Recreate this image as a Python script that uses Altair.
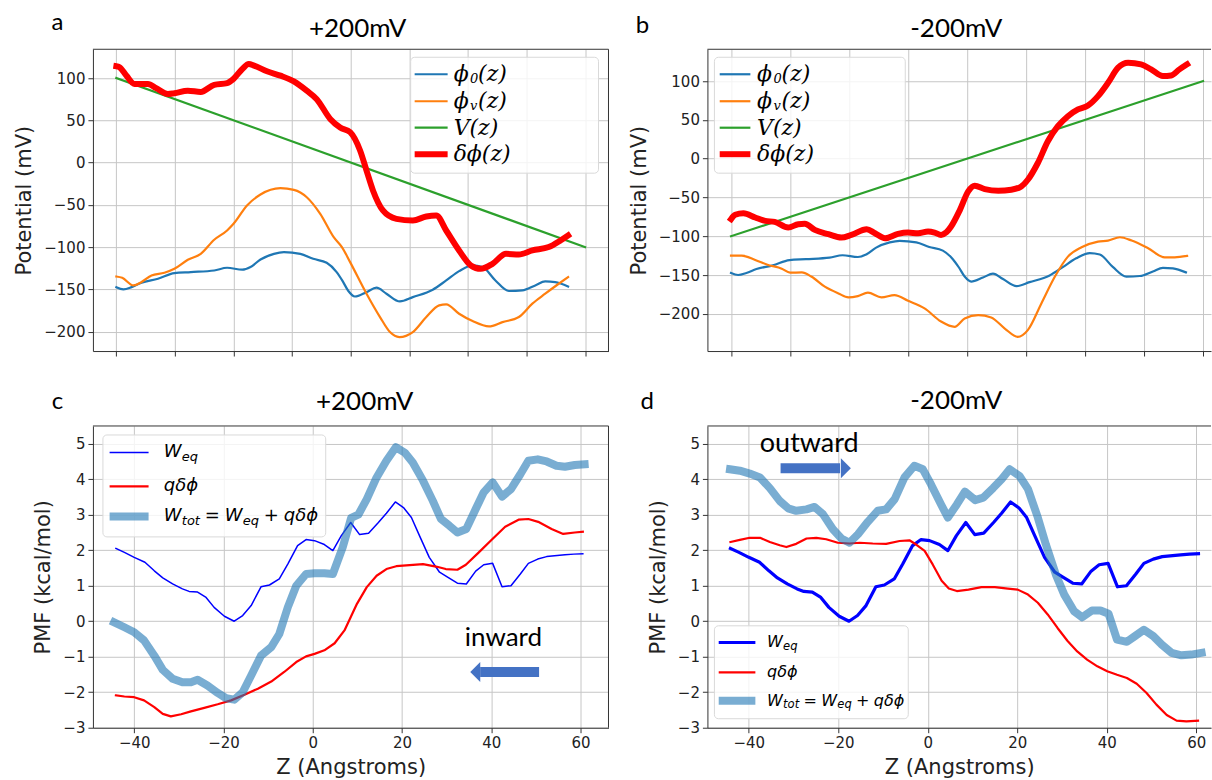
import altair as alt
import pandas as pd

# ---------------- Panels a / b : potentials (x in grid-tick units 0..8) ----------------
phi0_x = [0.0, 0.12, 0.26, 0.43, 0.71, 0.99, 1.27, 1.67, 1.89, 2.15, 2.29, 2.46, 2.69, 2.86, 3.14,
          3.36, 3.59, 3.76, 3.86, 3.96, 4.07, 4.27, 4.44, 4.61, 4.84, 5.06, 5.4, 5.63, 5.85, 6.08,
          6.25, 6.47, 6.7, 6.93, 7.15, 7.32, 7.49, 7.71]
phi0_y = [-147.4, -150, -147.4, -142.2, -137.5, -130.8, -129.6, -127.7, -124.5, -126.8, -123.6,
          -114.7, -108, -106, -108, -113.9, -118.6, -129.6, -140, -152, -158.5, -153.3, -148.1,
          -155.2, -164.3, -159.2, -150.5, -139.5, -128.5, -121.7, -123.6, -139.5, -152, -151.3,
          -145.4, -140.7, -141.5, -146.6]

a_phiv_x = [0.0, 0.1, 0.29, 0.43, 0.6, 0.82, 0.99, 1.22, 1.44, 1.67, 1.89, 2.0, 2.23, 2.46, 2.8,
            3.03, 3.25, 3.48, 3.71, 3.85, 3.99, 4.27, 4.5, 4.67, 4.83, 5.06, 5.29, 5.51, 5.63,
            5.85, 6.08, 6.36, 6.59, 6.87, 7.1, 7.32, 7.55, 7.71]
a_phiv_y = [-134.8, -136.4, -145.4, -141.4, -133.6, -130.4, -125.7, -115, -108, -91.4, -80.4,
            -72.5, -50.8, -37.8, -30.3, -32.3, -41, -60.7, -88.3, -100, -117.8, -155.2, -182.8,
            -200.6, -206.5, -200.6, -182.8, -169, -167.8, -178.9, -187.6, -193.9, -188.8, -182.8,
            -167, -155.2, -143.4, -135.5]

a_dphi_x = [0.0, 0.05, 0.17, 0.31, 0.54, 0.68, 0.88, 0.99, 1.22, 1.44, 1.67, 1.89, 2.0, 2.15,
            2.26, 2.35, 2.57, 2.8, 3.03, 3.25, 3.42, 3.65, 3.82, 3.99, 4.16, 4.27, 4.38, 4.55,
            4.78, 5.06, 5.29, 5.46, 5.63, 5.85, 6.05, 6.22, 6.42, 6.65, 6.87, 7.1, 7.38, 7.58, 7.71]
a_dphi_y = [114, 113, 103, 93, 93, 88, 81, 82, 85, 83.5, 92, 94, 99, 110.7, 116.6, 114.7, 108,
            102.8, 96, 85, 75, 51.6, 41.5, 35.9, 14.2, -9.5, -33, -56.7, -66.6, -68.5, -63.8,
            -62.6, -80.4, -104, -121.7, -125.7, -119.8, -108, -108.8, -104, -100, -92.2, -86.3]

v_x = [0, 8]
a_v_y = [100, -100]
b_v_y = [-100, 100]

b_phiv_x = [0.0, 0.18, 0.41, 0.63, 0.86, 1.0, 1.2, 1.36, 1.59, 1.82, 1.99, 2.15, 2.32, 2.55, 2.77,
            3.0, 3.28, 3.56, 3.79, 3.96, 4.19, 4.41, 4.64, 4.86, 5.03, 5.26, 5.49, 5.71, 5.94,
            6.22, 6.39, 6.59, 6.79, 7.07, 7.35, 7.52, 7.73]
b_phiv_y = [-125, -125, -130.6, -137, -141.8, -147, -146.6, -152, -165, -173.7, -178.9, -177.2,
            -172.8, -178.9, -175.9, -183.2, -193, -210, -216.8, -206, -201.7, -204.7, -219,
            -229.7, -221, -186.6, -152, -126.3, -114.2, -106.9, -105.6, -101.3, -105.6, -115.5,
            -127.2, -127.2, -125.4]

b_dphi_x = [0.0, 0.07, 0.21, 0.41, 0.58, 0.74, 0.97, 1.14, 1.25, 1.42, 1.65, 1.87, 2.04, 2.3,
            2.44, 2.61, 2.83, 3.0, 3.17, 3.34, 3.45, 3.56, 3.65, 3.73, 3.88, 4.02, 4.13, 4.3,
            4.53, 4.75, 4.92, 5.03, 5.2, 5.37, 5.54, 5.71, 5.88, 6.05, 6.22, 6.39, 6.56, 6.73,
            6.95, 7.12, 7.32, 7.46, 7.6, 7.73]
b_dphi_y = [-78, -72.4, -70.3, -75.9, -80.2, -81.5, -88.8, -84.5, -84, -91.8, -97.4, -101.7,
            -98.3, -91, -96.1, -102.6, -97, -95.3, -96.1, -94, -95.3, -98.3, -95, -87.5, -66,
            -42.2, -34.9, -39.2, -41.4, -40.1, -35.8, -27.2, -5.6, 22.4, 41.8, 54.7, 63.4, 68.5,
            80.6, 97.8, 117.2, 123.7, 121.6, 115.1, 106.5, 107.3, 115.1, 121.6]

# ---------------- Panels c / d : PMF vs Z (Angstroms) ----------------
weq_z = [-44.1, -42.2, -40, -37.6, -35.5, -33.6, -31.4, -29.2, -27.7, -25.8, -23.9, -22.1, -19.8,
         -17.6, -15.7, -13.8, -11.6, -9.7, -7.5, -5.6, -3.4, -1.5, 0.4, 2.6, 4.5, 6.4, 8.5, 10.5,
         12.5, 14.7, 16.5, 18.5, 20.4, 22.1, 23.9, 26.1, 28.4, 30.2, 32.4, 34.4, 36.5, 38.3, 40.3,
         42.4, 44.4, 46.5, 48.3, 50.4, 52.4, 56.5, 58.5, 60.5]
weq_v = [2.05, 1.94, 1.8, 1.66, 1.42, 1.22, 1.05, 0.91, 0.84, 0.82, 0.67, 0.39, 0.14, 0.0, 0.16,
         0.44, 0.97, 1.02, 1.19, 1.61, 2.13, 2.3, 2.27, 2.16, 1.99, 2.41, 2.78, 2.44, 2.48, 2.78,
         3.04, 3.36, 3.19, 2.92, 2.41, 1.8, 1.38, 1.24, 1.07, 1.05, 1.41, 1.59, 1.63, 0.97, 1.0,
         1.33, 1.63, 1.75, 1.82, 1.87, 1.89, 1.9]

c_qdphi_z = [-44.1, -42.2, -40, -37.8, -35.5, -33.6, -31.8, -29.5, -27.3, -24.3, -21.3, -18.3,
             -15.3, -12.3, -9.3, -6.4, -3.7, -1.5, 0.4, 2.6, 4.9, 7.1, 9.9, 12.1, 14.3, 16.5,
             18.7, 21.7, 24.7, 27.6, 29.8, 32.4, 34.3, 37.2, 40.2, 43.1, 46.1, 48.3, 50.5, 53.5,
             56.1, 58.7, 60.5]
c_qdphi_v = [-2.09, -2.12, -2.14, -2.23, -2.42, -2.61, -2.68, -2.62, -2.54, -2.44, -2.34, -2.23,
             -2.07, -1.9, -1.7, -1.43, -1.15, -0.99, -0.92, -0.82, -0.62, -0.26, 0.49, 0.96, 1.28,
             1.47, 1.55, 1.58, 1.61, 1.54, 1.47, 1.45, 1.59, 1.94, 2.31, 2.66, 2.86, 2.88, 2.8,
             2.6, 2.46, 2.5, 2.52]

c_wtot_z = [-44.5, -42.2, -40, -37.8, -35.5, -33.6, -31.4, -29.2, -27.3, -25.8, -23.6, -21.3,
            -19.4, -17.6, -15.7, -13.8, -11.6, -9.3, -7.5, -5.6, -3.7, -1.5, 0.4, 2.6, 4.5, 6.7,
            8.6, 10.2, 12.1, 14.3, 16.5, 18.6, 20.6, 22.4, 24.7, 26.9, 28.7, 30.6, 32.4, 34.4,
            36.5, 38.3, 40.3, 42.4, 44.4, 46.5, 48.3, 50.4, 52.4, 54.6, 56.5, 58.7, 60.9]
c_wtot_v = [-0.03, -0.17, -0.31, -0.54, -0.97, -1.37, -1.62, -1.72, -1.72, -1.65, -1.81, -2.02,
            -2.17, -2.21, -2.0, -1.53, -0.97, -0.73, -0.36, 0.39, 1.0, 1.33, 1.35, 1.35, 1.33,
            2.08, 2.91, 3.0, 3.44, 4.05, 4.52, 4.9, 4.75, 4.47, 3.96, 3.39, 2.88, 2.69, 2.5, 2.6,
            3.16, 3.63, 3.91, 3.51, 3.72, 4.14, 4.52, 4.56, 4.5, 4.38, 4.35, 4.4, 4.42]

d_qdphi_z = [-44.1, -42, -39.8, -37.5, -35.3, -33.1, -31.6, -29.4, -27.1, -24.9, -22.7, -20.1,
             -17.5, -15.2, -12.3, -9.3, -6.3, -4.1, -2.6, -0.7, 1.1, 3.1, 4.7, 6.5, 9.1, 12.0,
             15.0, 17.9, 20.1, 22.4, 24.6, 26.8, 29.0, 31.2, 33.4, 35.6, 37.9, 40.1, 42.3, 44.5,
             46.7, 48.9, 51.1, 53.4, 55.6, 57.8, 60.4]
d_qdphi_v = [2.23, 2.29, 2.35, 2.35, 2.23, 2.14, 2.09, 2.18, 2.33, 2.35, 2.31, 2.21, 2.19, 2.21,
             2.19, 2.18, 2.26, 2.28, 2.16, 1.98, 1.6, 1.14, 0.92, 0.85, 0.89, 0.96, 0.96, 0.92,
             0.89, 0.75, 0.52, 0.19, -0.19, -0.55, -0.85, -1.08, -1.27, -1.41, -1.51, -1.6, -1.76,
             -2.02, -2.35, -2.64, -2.8, -2.82, -2.8]

d_wtot_z = [-44.2, -42, -39.8, -37.5, -35.3, -33.1, -31.2, -29.4, -27.1, -25.3, -23.4, -21.2,
            -19.3, -17.5, -15.6, -13.4, -11.2, -9.3, -7.4, -5.2, -3.0, -1.1, 0.7, 3.0, 4.5, 6.5,
            8.3, 10.6, 12.4, 14.6, 16.5, 18.3, 20.5, 22.4, 24.6, 26.4, 28.6, 30.5, 32.7, 34.5,
            36.7, 38.6, 40.4, 42.3, 44.5, 46.3, 48.3, 50.4, 52.3, 54.5, 56.7, 58.9, 61.2]
d_wtot_v = [4.28, 4.24, 4.16, 4.05, 3.75, 3.39, 3.18, 3.11, 3.15, 3.22, 3.01, 2.59, 2.33, 2.21,
            2.45, 2.8, 3.11, 3.15, 3.44, 4.05, 4.38, 4.28, 3.86, 3.28, 2.92, 3.29, 3.65, 3.41,
            3.48, 3.75, 4.0, 4.28, 4.09, 3.72, 2.92, 2.16, 1.32, 0.75, 0.28, 0.11, 0.3, 0.3, 0.21,
            -0.52, -0.58, -0.42, -0.24, -0.42, -0.66, -0.89, -0.96, -0.94, -0.89]

# annotation anchors (data coordinates)
inward_label = (42.7, -0.46)
inward_arrow = (37.5, 50.7, -1.43, 36.4)      # body start, body end, y, head centre
outward_label = (-26.5, 4.98)
outward_arrow = (-32.9, -19.6, 4.31, -18.3)

# ---------------- styling ----------------
TAB_BLUE, TAB_ORANGE, TAB_GREEN, RED = "#1f77b4", "#ff7f0e", "#2ca02c", "#ff0000"
PURE_BLUE, ARROW = "#0000ff", "#4472C4"
GRID, SPINE, TXT = "#c6c6c6", "#333333", "#222222"
W_L, W_R, H = 516, 504, 302
ONE = pd.DataFrame({"o": [0]})


def axis_x(values, labels, width, title=None):
    kw = dict(values=values, grid=True, gridColor=GRID, gridWidth=1, domain=True,
              domainColor=SPINE, domainWidth=1, ticks=True, tickSize=5, tickColor=SPINE,
              tickWidth=1, labels=labels, labelFont="DejaVu Sans", labelFontSize=15,
              labelColor=TXT, labelPadding=3, labelFlush=False)
    if title:
        kw.update(title=title, titleFont="DejaVu Sans", titleFontSize=21,
                  titleFontWeight="normal", titleColor=TXT, titleX=width / 2, titleY=40,
                  titleAlign="center", titleBaseline="middle")
    else:
        kw.update(title=None)
    return alt.Axis(**kw)


def axis_y(values, title, title_x):
    return alt.Axis(values=values, grid=True, gridColor=GRID, gridWidth=1, domain=True,
                    domainColor=SPINE, domainWidth=1, ticks=True, tickSize=5, tickColor=SPINE,
                    tickWidth=1, labelFont="DejaVu Sans", labelFontSize=15, labelColor=TXT,
                    labelPadding=3, title=title, titleFont="DejaVu Sans", titleFontSize=21,
                    titleFontWeight="normal", titleColor=TXT, titleX=title_x, titleY=H / 2,
                    titleAlign="center", titleBaseline="middle", titleAngle=270)


def line(xs, ys, ax, color, width, interp, opacity=1.0):
    xsc, ysc, xax, yax = ax
    df = pd.DataFrame({"x": xs, "y": ys})
    return alt.Chart(df).mark_line(color=color, strokeWidth=width, interpolate=interp,
                                   opacity=opacity, strokeCap="square", strokeJoin="round").encode(
        x=alt.X("x:Q", scale=xsc, axis=xax), y=alt.Y("y:Q", scale=ysc, axis=yax))


def txt(s, x, y, size, font="DejaVu Sans", style="normal", color="black", align="left"):
    return alt.Chart(ONE).mark_text(text=s, font=font, fontSize=size, fontStyle=style,
                                    color=color, align=align, baseline="middle").encode(
        x=alt.value(x), y=alt.value(y))


def hrule(x1, x2, y, color, width, opacity=1.0):
    return alt.Chart(ONE).mark_rule(color=color, strokeWidth=width, strokeCap="butt",
                                    opacity=opacity).encode(
        x=alt.value(x1), x2=alt.value(x2), y=alt.value(y))


def vrule(x, y1, y2, color, width):
    return alt.Chart(ONE).mark_rule(color=color, strokeWidth=width).encode(
        x=alt.value(x), y=alt.value(y1), y2=alt.value(y2))


def legend(box, hx, tx, items, font, style):
    bx1, bx2, by1, by2 = box
    out = [alt.Chart(ONE).mark_rect(fill="white", fillOpacity=0.8, stroke="#d9d9d9",
                                    strokeWidth=1, cornerRadius=4).encode(
        x=alt.value(bx1), x2=alt.value(bx2), y=alt.value(by1), y2=alt.value(by2))]
    for ypos, color, width, opacity, segs in items:
        out.append(hrule(hx[0], hx[1], ypos, color, width, opacity))
        for s, dx, dy, size in segs:
            out.append(txt(s, tx + dx, ypos + dy, size, font, style))
    return out


def arrow(spec, ax, path):
    xsc, ysc, xax, yax = ax
    x1, x2, y, hxc = spec
    body = alt.Chart(pd.DataFrame({"x": [x1], "x2": [x2], "y": [y]})).mark_rule(
        color=ARROW, strokeWidth=10, strokeCap="butt").encode(
        x=alt.X("x:Q", scale=xsc, axis=xax), x2="x2:Q", y=alt.Y("y:Q", scale=ysc, axis=yax))
    head = alt.Chart(pd.DataFrame({"x": [hxc], "y": [y]})).mark_point(
        shape=path, filled=True, size=400, color=ARROW, opacity=1, strokeWidth=0).encode(
        x=alt.X("x:Q", scale=xsc, axis=xax), y=alt.Y("y:Q", scale=ysc, axis=yax))
    return [body, head]


def data_text(s, pos, ax, size):
    xsc, ysc, xax, yax = ax
    return alt.Chart(pd.DataFrame({"x": [pos[0]], "y": [pos[1]]})).mark_text(
        text=s, font="Lato", fontSize=size, color="black", align="center", baseline="middle").encode(
        x=alt.X("x:Q", scale=xsc, axis=xax), y=alt.Y("y:Q", scale=ysc, axis=yax))


SERIF = "DejaVu Serif"
phi_items = lambda ys: [
    (ys[0], TAB_BLUE, 2.2, 1.0, [("ϕ", 0, 0, 22), ("0", 16.5, 5, 13), ("(z)", 24.5, 0, 22)]),
    (ys[1], TAB_ORANGE, 2.2, 1.0, [("ϕ", 0, 0, 22), ("v", 16.5, 5, 13), ("(z)", 24.5, 0, 22)]),
    (ys[2], TAB_GREEN, 2.2, 1.0, [("V(z)", 0, 0, 22)]),
    (ys[3], RED, 6, 1.0, [("δϕ(z)", 0, 0, 22)]),
]


def pmf_items(ys, k, weq_w):
    m, s, d = 18 * k, 13 * k, 5 * k
    return [
        (ys[0], PURE_BLUE, weq_w, 1.0, [("W", 0, 0, m), ("eq", 18 * k, d, s)]),
        (ys[1], RED, 2.2, 1.0, [("qδϕ", 0, 0, m)]),
        (ys[2], TAB_BLUE, 8, 0.6, [("W", 0, 0, m), ("tot", 18 * k, d, s), ("=", 41 * k, 0, m),
                                   ("W", 61 * k, 0, m), ("eq", 79 * k, d, s), ("+", 100 * k, 0, m),
                                   ("qδϕ", 120 * k, 0, m)]),
    ]


# ---------------- panel a ----------------
ax_a = (alt.Scale(domain=[-0.4, 8.4], nice=False, zero=False),
        alt.Scale(domain=[-223, 134], nice=False, zero=False),
        axis_x(list(range(9)), False, W_L),
        axis_y([-200, -150, -100, -50, 0, 50, 100], "Potential (mV)", -68))
layers_a = [
    line(phi0_x, phi0_y, ax_a, TAB_BLUE, 2.2, "monotone"),
    line(a_phiv_x, a_phiv_y, ax_a, TAB_ORANGE, 2.2, "monotone"),
    line(v_x, a_v_y, ax_a, TAB_GREEN, 2.2, "linear"),
    line(a_dphi_x, a_dphi_y, ax_a, RED, 6, "monotone"),
]
layers_a += legend((318, 506, 8, 124), (322, 355), 361, phi_items([25, 52, 78.5, 105]), SERIF, "italic")
layers_a += [
    hrule(0, W_L, 0, SPINE, 1), vrule(W_L, 0, H, SPINE, 1),
    txt("a", -35.5, -26, 24, "Lato", align="center"),
    txt("+200mV", 265, -20, 26, "Lato", align="center"),
    alt.Chart(ONE).mark_rule(opacity=0, strokeWidth=1).encode(
        x=alt.value(-92), x2=alt.value(-91), y=alt.value(-48.5)),
]
panel_a = alt.layer(*layers_a).properties(width=W_L, height=H)

# ---------------- panel b ----------------
ax_b = (alt.Scale(domain=[-0.4, 8.135], nice=False, zero=False),
        alt.Scale(domain=[-248, 141], nice=False, zero=False),
        axis_x(list(range(9)), False, W_R),
        axis_y([-200, -150, -100, -50, 0, 50, 100], "Potential (mV)", -68))
layers_b = [
    line(phi0_x, phi0_y, ax_b, TAB_BLUE, 2.2, "monotone"),
    line(b_phiv_x, b_phiv_y, ax_b, TAB_ORANGE, 2.2, "monotone"),
    line(v_x, b_v_y, ax_b, TAB_GREEN, 2.2, "linear"),
    line(b_dphi_x, b_dphi_y, ax_b, RED, 6, "monotone"),
]
layers_b += legend((7, 198, 8, 124), (12.3, 43), 49.7, phi_items([25, 52, 78.5, 105]), SERIF, "italic")
layers_b += [
    hrule(0, W_R, 0, SPINE, 1),
    txt("b", -65, -23.5, 24, "Lato", align="center"),
    txt("-200mV", 249, -20.5, 26, "Lato", align="center"),
]
panel_b = alt.layer(*layers_b).properties(width=W_R, height=H)

# ---------------- panel c ----------------
ax_c = (alt.Scale(domain=[-49.25, 66.25], nice=False, zero=False),
        alt.Scale(domain=[-3, 5.5], nice=False, zero=False),
        axis_x([-40, -20, 0, 20, 40, 60], True, W_L, "Z (Angstroms)"),
        axis_y(list(range(-3, 6)), "PMF (kcal/mol)", -49))
layers_c = [
    line(weq_z, weq_v, ax_c, PURE_BLUE, 1.5, "linear"),
    line(c_qdphi_z, c_qdphi_v, ax_c, RED, 2.2, "linear"),
    line(c_wtot_z, c_wtot_v, ax_c, TAB_BLUE, 8, "linear", 0.6),
]
layers_c += legend((10, 233, 9, 111), (16.7, 55.7), 71, pmf_items([26.5, 60.5, 90.5], 1.0, 1.5),
                   "DejaVu Sans", "italic")
layers_c += arrow(inward_arrow, ax_c, "M0.5,-1L-0.5,0L0.5,1Z")
layers_c += [
    data_text("inward", inward_label, ax_c, 26),
    hrule(0, W_L, 0, SPINE, 1), vrule(W_L, 0, H, SPINE, 1),
    txt("c", -35.6, -24.3, 24, "Lato", align="center"),
    txt("+200mV", 272, -23.5, 26, "Lato", align="center"),
]
panel_c = alt.layer(*layers_c).properties(width=W_L, height=H)

# ---------------- panel d ----------------
ax_d = (alt.Scale(domain=[-49.25, 63.3], nice=False, zero=False),
        alt.Scale(domain=[-3, 5.5], nice=False, zero=False),
        axis_x([-40, -20, 0, 20, 40, 60], True, W_R, "Z (Angstroms)"),
        axis_y(list(range(-3, 6)), "PMF (kcal/mol)", -49))
layers_d = [
    line(weq_z, weq_v, ax_d, PURE_BLUE, 3.2, "linear"),
    line(d_qdphi_z, d_qdphi_v, ax_d, RED, 2.2, "linear"),
    line(d_wtot_z, d_wtot_v, ax_d, TAB_BLUE, 8, "linear", 0.6),
]
layers_d += legend((7, 201, 200, 293), (11.3, 48), 59.7, pmf_items([216.7, 246.7, 275], 0.89, 3.2),
                   "DejaVu Sans", "italic")
layers_d += arrow(outward_arrow, ax_d, "M-0.5,-1L0.5,0L-0.5,1Z")
layers_d += [
    data_text("outward", outward_label, ax_d, 27),
    hrule(0, W_R, 0, SPINE, 1),
    txt("d", -60.3, -23.5, 24, "Lato", align="center"),
    txt("-200mV", 249, -25, 26, "Lato", align="center"),
]
panel_d = alt.layer(*layers_d).properties(width=W_R, height=H)

chart = alt.concat(panel_a, panel_b, panel_c, panel_d, columns=2,
                   spacing={"row": 75, "column": 99}, bounds="flush").properties(
    padding=0, background="white").configure_view(stroke="transparent")

chart.save("out.html", embed_options={"renderer": "svg", "actions": False})
